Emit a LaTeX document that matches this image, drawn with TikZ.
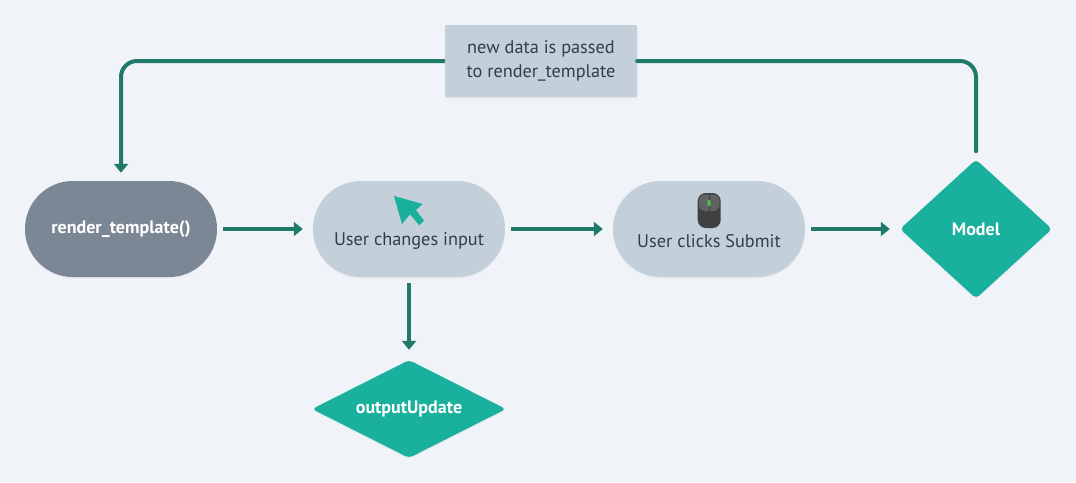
\documentclass[tikz,border=0pt]{standalone}
\usepackage{fontspec}
\setmainfont{PT Sans}
\usetikzlibrary{arrows.meta,shapes.geometric,shadows}
\definecolor{pagebg}{HTML}{F0F4F8}
\definecolor{pillgrey}{HTML}{C3CFD9}
\definecolor{pilldark}{HTML}{7B8794}
\definecolor{tealfill}{HTML}{1AB09E}
\definecolor{tealline}{HTML}{1F7A6A}
\definecolor{inktext}{HTML}{323F4B}
\tikzset{
	softshadow/.style={drop shadow={opacity=0.08, shadow xshift=0pt, shadow yshift=-1.5pt}},
	pill/.style={draw=none, fill=pillgrey, rectangle, rounded corners=47.9pt, minimum width=192pt, minimum height=96pt, softshadow},
	gate/.style={draw=none, fill=tealfill, diamond, rounded corners=4pt, softshadow, inner sep=0pt},
	darktext/.style={text=inktext, font=\fontsize{18.3}{24}\selectfont, inner sep=0pt},
	whitetext/.style={text=white, font=\fontsize{18}{22}\selectfont\bfseries, inner sep=0pt},
	flow/.style={tealline, line width=4pt, -{Triangle[width=14pt, length=9pt]}, shorten <=6pt, shorten >=10pt},
}
\begin{document}
\begin{tikzpicture}[x=1pt, y=-1pt]
	\useasboundingbox[fill=pagebg] (0,0) rectangle (1076,482);

	% Draw the pills
	\node[pill, fill=pilldark] (render) at (121,229) {};
	\node[pill] (input) at (409,229) {};
	\node[pill] (submit) at (709,229) {};

	% Draw the diamonds
	\node[gate, minimum width=152pt, minimum height=139pt] (model) at (976,229) {};
	\node[gate, minimum width=194pt, minimum height=98pt] (update) at (409,409) {};

	% Draw the box on the top wire
	\node[draw=none, fill=pillgrey, rounded corners=1pt, minimum width=192pt, minimum height=72pt, softshadow, align=center, text=inktext, font=\fontsize{18.3}{24}\selectfont] (passed) at (541,61) {new data is passed\\to render\_template};

	% Texts
	\node[whitetext] (rendertext) at (121,229) {render\_template()};
	\node[darktext] (inputtext) at (409,241) {User changes input};
	\node[darktext] (submittext) at (709,241) {User clicks Submit};
	\node[whitetext] (modeltext) at (976,229) {Model};
	\node[whitetext] (updatetext) at (409,409) {outputUpdate};

	% Cursor icon
	\fill[tealfill] (394,196) -- (422.7,204) -- (416,210) -- (424,220.7) -- (419.3,225.3) -- (410,214.3) -- (402,224.3) -- cycle;

	% Mouse icon
	\fill[black!75, rounded corners=8pt] (697.7,193) rectangle (720.7,228);
	\fill[black!62, rounded corners=6pt] (699,194.5) rectangle (719.5,211);
	\draw[black!75, line width=0.8pt] (709,194) -- (709,211);
	\fill[green!60!black!70!white, rounded corners=1pt] (707.3,200) rectangle (710.7,206);

	% Draw the wires
	\draw[flow] (render) -- (input);
	\draw[flow] (input) -- (submit);
	\draw[flow] (submit) -- (model);
	\draw[flow] (input) -- (update);

	\draw[flow, -, line cap=round, rounded corners=16pt, shorten >=0pt, shorten <=8pt] (model.north) |- (passed.east);
	\draw[flow, rounded corners=16pt, shorten <=0pt, shorten >=8pt] (passed.west) -| (render.north);
\end{tikzpicture}
\end{document}
